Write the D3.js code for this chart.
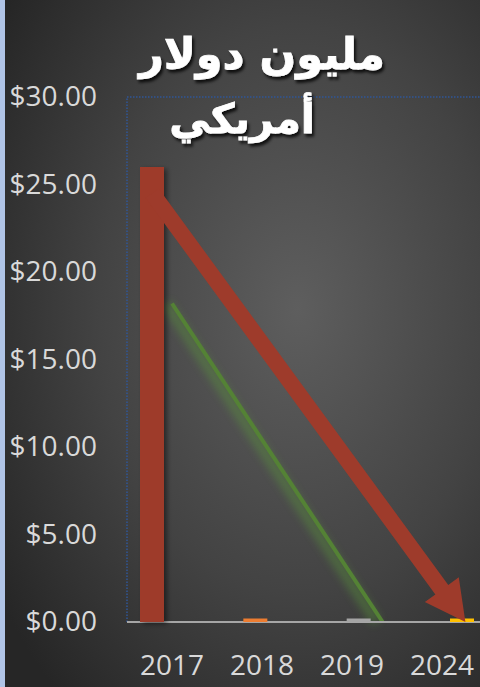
<!DOCTYPE html>
<html>
<head>
<meta charset="utf-8">
<script src="https://cdn.jsdelivr.net/npm/d3@7"></script>
<style>
  html, body { margin: 0; padding: 0; background: #2a2a2a; }
  svg { display: block; }
</style>
</head>
<body>
<div id="chart"></div>
<script>
// chart data
const years = ['2017', '2018', '2019', '2024'];
const seriesNames = ['s1', 's2', 's3', 's4'];
const seriesColors = ['#9e3b2b', '#ed7d31', '#a5a5a5', '#ffc000'];
const s1Values = [26.0, 0, 0, 0];
const s2Values = [0, 0.2, 0, 0];
const s3Values = [0, 0, 0.2, 0];
const s4Values = [0, 0, 0, 0.2];
const yTicks = [0, 5, 10, 15, 20, 25, 30];
const titleLines = ['مليون دولار', 'أمريكي'];

// annotations: [year, position within band (0..1), value]
const arrowFrom = ['2017', 0.28, 24.5];
const arrowTo = ['2024', 0.76, 0];
const greenFrom = ['2017', 0.5, 18.2];
const greenTo = ['2019', 0.84, 0];

const W = 480, H = 687;
const margin = { top: 97, left: 127, bottom: 65 };
const plotW = 360;

const svg = d3.select('#chart').append('svg')
  .attr('width', W).attr('height', H);

const defs = svg.append('defs');
const bg = defs.append('radialGradient').attr('id', 'bg')
  .attr('cx', '0.62').attr('cy', '0.45').attr('r', '0.75');
bg.append('stop').attr('offset', '0%').attr('stop-color', '#5e5e5e');
bg.append('stop').attr('offset', '55%').attr('stop-color', '#434343');
bg.append('stop').attr('offset', '100%').attr('stop-color', '#262626');

const shadow = defs.append('filter').attr('id', 'shadow')
  .attr('x', '-50%').attr('y', '-10%').attr('width', '200%').attr('height', '130%');
shadow.append('feDropShadow').attr('dx', 3).attr('dy', 2).attr('stdDeviation', 2.5)
  .attr('flood-color', '#000').attr('flood-opacity', 0.45);

const txtShadow = defs.append('filter').attr('id', 'txtShadow')
  .attr('x', '-20%').attr('y', '-20%').attr('width', '140%').attr('height', '150%');
txtShadow.append('feDropShadow').attr('dx', 2).attr('dy', 3).attr('stdDeviation', 1.5)
  .attr('flood-color', '#000').attr('flood-opacity', 0.8);

const glow = defs.append('filter').attr('id', 'glow')
  .attr('x', '-50%').attr('y', '-20%').attr('width', '200%').attr('height', '140%');
glow.append('feGaussianBlur').attr('stdDeviation', 4);

svg.append('rect').attr('width', W).attr('height', H).attr('fill', 'url(#bg)');
svg.append('rect').attr('width', 5).attr('height', H).attr('fill', '#b0c4e6');

const x = d3.scaleBand().domain(years)
  .range([margin.left, margin.left + plotW]);
const sub = d3.scalePoint().domain(seriesNames).range([-20, 20]);
const y = d3.scaleLinear().domain([0, 30])
  .range([H - margin.bottom, margin.top]);
const barW = 24;

const px = a => x(a[0]) + x.bandwidth() * a[1];
const py = a => y(a[2]);

// plot area border (dotted)
svg.append('rect')
  .attr('x', margin.left).attr('y', margin.top)
  .attr('width', plotW).attr('height', y(0) - margin.top)
  .attr('fill', 'none').attr('stroke', '#2f5597')
  .attr('stroke-width', 1.5).attr('stroke-dasharray', '1.5 1.5');

// axes
const yAxis = svg.append('g')
  .attr('transform', `translate(${margin.left},0)`)
  .call(d3.axisLeft(y).tickValues(yTicks).tickSize(0).tickPadding(30)
    .tickFormat(d3.format('$.2f')));
yAxis.select('.domain').remove();
yAxis.selectAll('text')
  .attr('fill', '#d9d9d9').attr('font-size', '28px')
  .attr('font-family', '"Open Sans", sans-serif');

const xAxis = svg.append('g')
  .attr('transform', `translate(0,${y(0)})`)
  .call(d3.axisBottom(x).tickSize(0).tickPadding(33));
xAxis.select('.domain').remove();
xAxis.selectAll('text')
  .attr('fill', '#d9d9d9').attr('font-size', '28px')
  .attr('font-family', '"Open Sans", sans-serif');

// bars
const allSeries = [s1Values, s2Values, s3Values, s4Values];
const barData = [];
allSeries.forEach((vals, si) => {
  vals.forEach((v, i) => {
    if (v > 0) barData.push({ year: years[i], s: seriesNames[si], v, color: seriesColors[si] });
  });
});

// green line
const gLine = [[px(greenFrom), py(greenFrom)], [px(greenTo), py(greenTo)]];
svg.append('path')
  .attr('d', d3.line()(gLine.map(p => [p[0] - 6, p[1]])))
  .attr('stroke', '#5a9a3a').attr('stroke-width', 10).attr('opacity', 0.45)
  .attr('filter', 'url(#glow)').attr('fill', 'none');
svg.append('path')
  .attr('d', d3.line()(gLine))
  .attr('stroke', '#548235').attr('stroke-width', 4).attr('fill', 'none');

// axis line
svg.append('line')
  .attr('x1', margin.left).attr('x2', W)
  .attr('y1', y(0)).attr('y2', y(0))
  .attr('stroke', '#a6a6a6').attr('stroke-width', 2);

svg.selectAll('.bar').data(barData).enter().append('rect')
  .attr('class', 'bar')
  .attr('x', d => x(d.year) + x.bandwidth() / 2 + sub(d.s) - barW / 2)
  .attr('y', d => y(d.v))
  .attr('width', barW)
  .attr('height', d => y(0) - y(d.v))
  .attr('fill', d => d.color)
  .attr('filter', d => d.v > 1 ? 'url(#shadow)' : null);

// red arrow
(function drawArrow() {
  const x0 = px(arrowFrom), y0 = py(arrowFrom);
  const x1 = px(arrowTo), y1 = py(arrowTo);
  const len = Math.hypot(x1 - x0, y1 - y0);
  const ux = (x1 - x0) / len, uy = (y1 - y0) / len;
  const nx = -uy, ny = ux;
  const shaft = 16, headL = 40, headW = 42;
  const bx = x1 - ux * headL, by = y1 - uy * headL;
  const pts = [
    [x0 + nx * shaft / 2, y0 + ny * shaft / 2],
    [bx + nx * shaft / 2, by + ny * shaft / 2],
    [bx + nx * headW / 2, by + ny * headW / 2],
    [x1, y1],
    [bx - nx * headW / 2, by - ny * headW / 2],
    [bx - nx * shaft / 2, by - ny * shaft / 2],
    [x0 - nx * shaft / 2, y0 - ny * shaft / 2]
  ];
  svg.append('path')
    .attr('d', d3.line()(pts) + 'Z')
    .attr('fill', '#9e3b2b');
})();

// title
const title = svg.append('g').attr('filter', 'url(#txtShadow)');
title.append('text')
  .attr('x', 262).attr('y', 69)
  .attr('text-anchor', 'middle')
  .attr('font-family', '"DejaVu Sans", sans-serif')
  .attr('font-weight', 'bold').attr('font-size', '43px')
  .attr('fill', '#ffffff').attr('stroke', '#ffffff').attr('stroke-width', 0.8)
  .text(titleLines[0]);
title.append('text')
  .attr('x', 242).attr('y', 133)
  .attr('text-anchor', 'middle')
  .attr('font-family', '"DejaVu Sans", sans-serif')
  .attr('font-weight', 'bold').attr('font-size', '41px')
  .attr('fill', '#ffffff').attr('stroke', '#ffffff').attr('stroke-width', 0.8)
  .text(titleLines[1]);
</script>
</body>
</html>
